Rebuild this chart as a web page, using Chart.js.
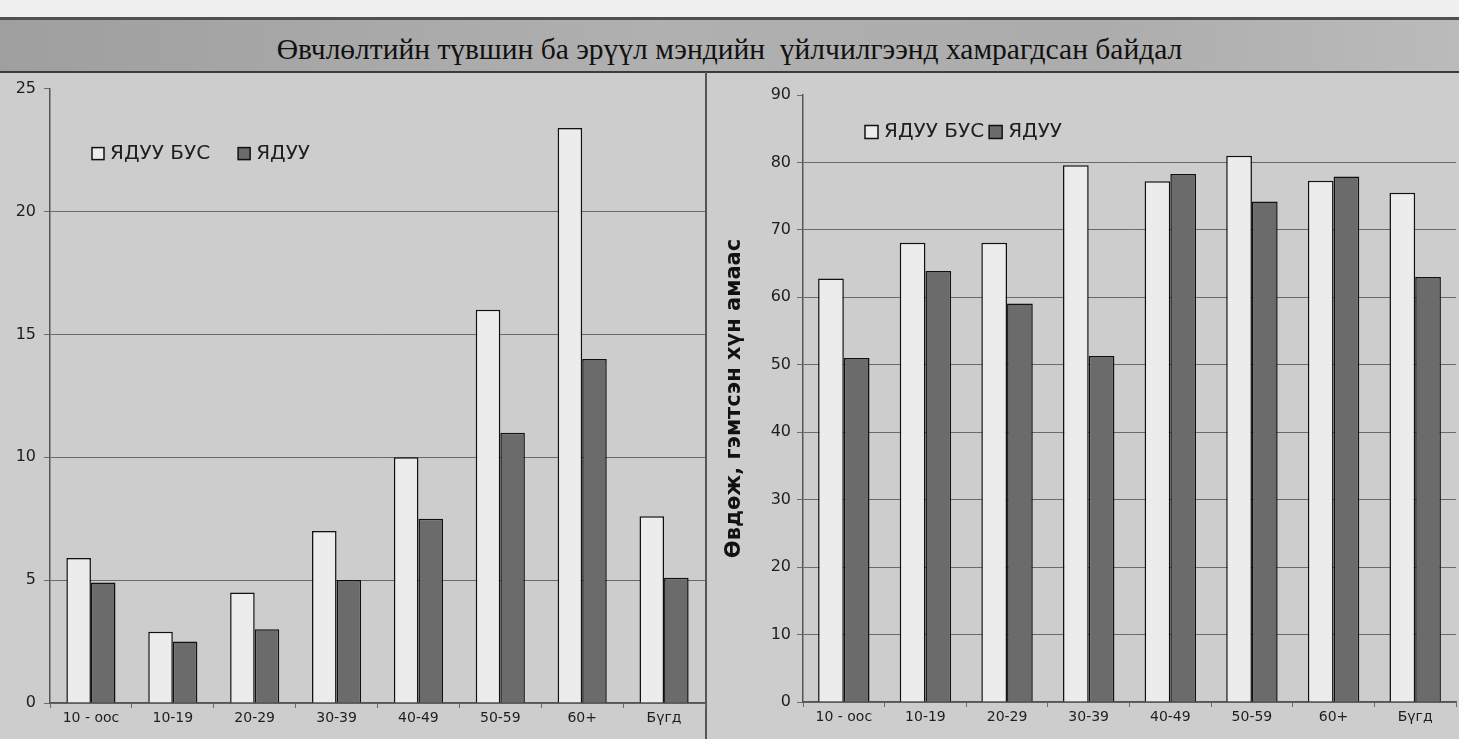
<!DOCTYPE html>
<html>
<head>
<meta charset="utf-8">
<script src="https://cdn.jsdelivr.net/npm/chart.js@4.4.0/dist/chart.umd.min.js"></script>
<style>
    html, body { margin: 0; padding: 0; }
    body {
        width: 1459px; height: 739px; overflow: hidden; position: relative;
        background: #cdcdcd;
        font-family: "DejaVu Sans", Arial, sans-serif;
    }
    #topStrip { position: absolute; left: 0; top: 0; width: 1459px; height: 17px; background: #f0f0f0; }
    #titleBand {
        position: absolute; left: 0; top: 17px; width: 1459px; height: 56px;
        background: linear-gradient(90deg, #9f9f9f 0%, #b0b0b0 45%, #acacac 75%, #bbbbbb 100%);
        border-top: 3px solid #505050; border-bottom: 2px solid #3a3a3a;
        box-sizing: border-box;
    }
    #titleBand span {
        position: absolute; left: 0; right: 0; top: 13px; text-align: center;
        font-family: "Liberation Serif", "Times New Roman", serif; font-size: 29.5px; color: #111;
    }
    .box { position: absolute; }
    #leftBox { left: 0; top: 71px; width: 712px; height: 668px; }
    #rightBox { left: 712px; top: 78px; width: 747px; height: 661px; }
    .divider { position: absolute; left: 705px; top: 72px; width: 2px; height: 667px; background: #555; }
</style>
</head>
<body>
<div id="topStrip"></div>
<div id="titleBand"><span>Өвчлөлтийн түвшин ба эрүүл мэндийн&nbsp; үйлчилгээнд хамрагдсан байдал</span></div>
<div class="divider"></div>
<div id="leftBox" class="box"><canvas id="leftChart"></canvas></div>
<div id="rightBox" class="box"><canvas id="rightChart"></canvas></div>
<script>
// age groups shared by both charts
const categories = ['10 - оос', '10-19', '20-29', '30-39', '40-49', '50-59', '60+', 'Бүгд'];
const seriesNames = ['ЯДУУ БУС', 'ЯДУУ'];

// left chart: morbidity level
const leftNonPoor = [5.9, 2.9, 4.5, 7.0, 10.0, 16.0, 23.4, 7.6];
const leftPoor = [4.9, 2.5, 3.0, 5.0, 7.5, 11.0, 14.0, 5.1];
const leftTicks = [0, 5, 10, 15, 20, 25];

// right chart: share of sick/injured covered by health services
const rightNonPoor = [62.8, 68.1, 68.1, 79.6, 77.2, 81.0, 77.3, 75.5];
const rightPoor = [51.0, 63.9, 59.1, 51.3, 78.3, 74.2, 77.9, 63.0];
const rightTicks = [0, 10, 20, 30, 40, 50, 60, 70, 80, 90];
const rightAxisTitle = 'Өвдөж, гэмтсэн хүн амаас';

const lightFill = '#ececec';
const darkFill = '#6b6b6b';
const gridColor = '#6a6a6a';
const textColor = '#1e1e1e';
const sans = '"DejaVu Sans", Arial, sans-serif';

// small legend drawn inside the plot area, like the Excel original
const innerLegend = {
    id: 'innerLegend',
    afterDraw(chart, args, opts) {
        const ctx = chart.ctx;
        const area = chart.chartArea;
        let x = area.left + opts.x;
        const y = area.top + opts.y;
        const b = opts.box;
        ctx.save();
        ctx.font = opts.size + 'px ' + sans;
        ctx.textBaseline = 'middle';
        chart.data.datasets.forEach(function(ds) {
            ctx.fillStyle = ds.backgroundColor;
            ctx.fillRect(x, y - b / 2, b, b);
            ctx.strokeStyle = '#111';
            ctx.lineWidth = 1.5;
            ctx.strokeRect(x, y - b / 2, b, b);
            ctx.fillStyle = textColor;
            ctx.fillText(ds.label, x + b + 6, y);
            x += b + 6 + ctx.measureText(ds.label).width + opts.gap;
        });
        ctx.restore();
    }
};

function makeChart(id, nonPoor, poor, ticks, cfg) {
    const maxVal = ticks[ticks.length - 1];
    return new Chart(document.getElementById(id), {
        type: 'bar',
        data: {
            labels: categories,
            datasets: [
                { label: seriesNames[0], data: nonPoor, backgroundColor: lightFill, borderColor: '#111', borderWidth: 1.5 },
                { label: seriesNames[1], data: poor, backgroundColor: darkFill, borderColor: '#111', borderWidth: 1.5 }
            ]
        },
        options: {
            responsive: true,
            maintainAspectRatio: false,
            animation: false,
            layout: { padding: cfg.padding },
            datasets: { bar: { categoryPercentage: cfg.catPct, barPercentage: 1.0 } },
            plugins: {
                legend: { display: false },
                tooltip: { enabled: false },
                innerLegend: cfg.legend
            },
            scales: {
                x: {
                    grid: { offset: true, drawOnChartArea: false, tickLength: 5, color: gridColor },
                    border: { display: true, color: '#555', width: 1.5 },
                    ticks: { color: textColor, font: { size: 14, family: sans }, padding: 2, maxRotation: 0 },
                    afterFit(scale) { scale.height = cfg.xHeight; }
                },
                y: {
                    min: 0,
                    max: maxVal,
                    afterBuildTicks(scale) { scale.ticks = ticks.map(v => ({ value: v })); },
                    grid: {
                        color: ctx => (ctx.tick && ctx.tick.value === maxVal) ? 'rgba(0,0,0,0)' : gridColor,
                        tickColor: gridColor,
                        tickLength: 6,
                        lineWidth: 1
                    },
                    border: { display: true, color: '#555', width: 1.5 },
                    ticks: { color: textColor, font: { size: 16, family: sans }, padding: cfg.tickPad },
                    title: cfg.yTitle,
                    afterFit(scale) { scale.width = cfg.yWidth; }
                }
            }
        },
        plugins: [innerLegend]
    });
}

makeChart('leftChart', leftNonPoor, leftPoor, leftTicks, {
    padding: { top: 10, right: 7, left: 0, bottom: 0 },
    catPct: 0.6,
    xHeight: 36,
    yWidth: 50,
    tickPad: 8,
    yTitle: { display: false },
    legend: { x: 42, y: 65, size: 20, gap: 28, box: 12 }
});

makeChart('rightChart', rightNonPoor, rightPoor, rightTicks, {
    padding: { top: 17, right: 3, left: 0, bottom: 0 },
    catPct: 0.63,
    xHeight: 37,
    yWidth: 91,
    tickPad: 6,
    yTitle: {
        display: true,
        text: rightAxisTitle,
        color: '#111',
        font: { size: 21, weight: 'bold', family: sans },
        padding: { top: 10, bottom: 0 }
    },
    legend: { x: 62, y: 37, size: 20, gap: 5, box: 13 }
});
</script>
</body>
</html>
